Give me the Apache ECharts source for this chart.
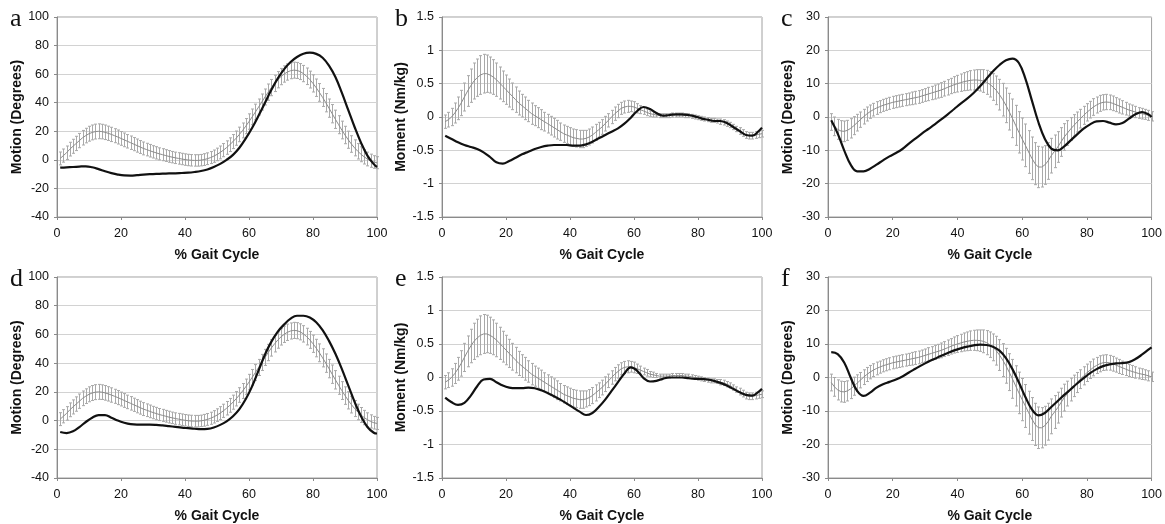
<!DOCTYPE html>
<html>
<head>
<meta charset="utf-8">
<script src="https://cdn.jsdelivr.net/npm/echarts@6/dist/echarts.min.js"></script>
<style>
  html, body { margin: 0; padding: 0; background: #fff; }
  #chart { width: 1165px; height: 524px; }
</style>
</head>
<body>
<div id="chart"></div>
<script>
// % gait cycle for the normative mean +/- SD
const GAIT_X = [1,2,3,4,5,6,7,8,9,10,11,12,13,14,15,16,17,18,19,20,21,22,23,24,25,26,27,28,29,30,31,32,33,34,35,36,37,38,39,40,41,42,43,44,45,46,47,48,49,50,51,52,53,54,55,56,57,58,59,60,61,62,63,64,65,66,67,68,69,70,71,72,73,74,75,76,77,78,79,80,81,82,83,84,85,86,87,88,89,90,91,92,93,94,95,96,97,98,99,100];
// % gait cycle for the subject curves
const SUBJ_X = [1,3,5,7,9,11,13,15,17,19,21,23,25,27,29,31,33,35,37,39,41,43,45,47,49,51,53,55,57,59,61,63,65,67,69,71,73,75,77,79,81,83,85,87,89,91,93,95,97,99,100];

// normative data (panels a/d, b/e, c/f share the same normal band)
const KNEE_MEAN = [1,3,5,7.5,9.5,11.5,13.5,15.5,17,18.3, 19.2,19.8,20,19.8,19.3,18.6,17.8,16.9,16,15, 14,13,12,11,10,9,8,7.2,6.4,5.6, 4.9,4.2,3.6,3,2.4,1.9,1.4,1,0.6,0.2, -0.1,-0.3,-0.4,-0.4,-0.2,0.2,0.8,1.6,2.6,3.8, 5.2,6.8,8.6,10.6,12.8,15.2,17.8,20.6,23.6,26.8, 30.1,33.5,37,40.5,44,47.4,50.6,53.5,56.1,58.3, 60.1,61.5,62.4,62.8,62.6,61.8,60.4,58.5,56.2,53.5, 50.5,47.2,43.7,40,36.2,32.3,28.4,24.6,20.9,17.4, 14.1,11.1,8.4,6,3.9,2.1,0.6,-0.6,-1.5,-2];
const KNEE_SD = [4.5,4.6,4.7,4.8,4.9,5,5,5.1,5.1,5.2, 5.2,5.2,5.2,5.1,5.1,5,5,4.9,4.9,4.8, 4.8,4.7,4.7,4.6,4.6,4.5,4.5,4.4,4.4,4.3, 4.3,4.2,4.2,4.1,4.1,4,4,4,4,4, 4,4,4,4,4,4.1,4.1,4.2,4.3,4.4, 4.5,4.6,4.7,4.8,4.9,5,5.1,5.2,5.3,5.4, 5.5,5.5,5.6,5.6,5.6,5.7,5.7,5.7,5.7,5.7, 5.7,5.7,5.6,5.6,5.6,5.6,5.7,5.8,5.9,6, 6.1,6.2,6.3,6.4,6.4,6.4,6.4,6.3,6.2,6.1, 6,5.8,5.6,5.4,5.2,5,4.8,4.6,4.4,4.2];

const MOM_MEAN = [-0.07,-0.04,0,0.06,0.13,0.21,0.3,0.39,0.47,0.54, 0.59,0.63,0.65,0.65,0.63,0.6,0.56,0.51,0.46,0.41, 0.36,0.31,0.26,0.21,0.17,0.13,0.09,0.05,0.02,-0.01, -0.04,-0.07,-0.1,-0.13,-0.16,-0.19,-0.22,-0.25,-0.27,-0.29, -0.31,-0.32,-0.33,-0.33,-0.32,-0.3,-0.27,-0.23,-0.19,-0.15, -0.1,-0.05,0,0.05,0.09,0.13,0.15,0.16,0.16,0.15, 0.13,0.11,0.09,0.07,0.05,0.04,0.03,0.02,0.02,0.02, 0.02,0.03,0.03,0.03,0.03,0.02,0.02,0.01,0,-0.01, -0.02,-0.03,-0.04,-0.05,-0.05,-0.06,-0.07,-0.08,-0.1,-0.12, -0.15,-0.18,-0.21,-0.24,-0.27,-0.28,-0.28,-0.27,-0.26,-0.25];
const MOM_SD = [0.1,0.11,0.13,0.15,0.17,0.19,0.21,0.23,0.25,0.27, 0.28,0.29,0.29,0.28,0.27,0.26,0.25,0.24,0.23,0.22, 0.21,0.2,0.19,0.18,0.17,0.17,0.16,0.16,0.15,0.15, 0.15,0.14,0.14,0.14,0.14,0.14,0.13,0.13,0.13,0.13, 0.13,0.13,0.13,0.13,0.12,0.12,0.12,0.12,0.11,0.11, 0.11,0.1,0.1,0.1,0.1,0.09,0.09,0.09,0.08,0.08, 0.07,0.06,0.05,0.05,0.04,0.04,0.03,0.03,0.03,0.03, 0.03,0.03,0.03,0.03,0.03,0.03,0.03,0.03,0.03,0.03, 0.03,0.03,0.03,0.03,0.03,0.03,0.04,0.04,0.04,0.04, 0.04,0.04,0.05,0.05,0.05,0.05,0.05,0.05,0.05,0.05];

const ABD_MEAN = [-1.5,-2.8,-3.7,-4.2,-4.3,-4,-3.4,-2.6,-1.7,-0.8, 0.1,0.9,1.6,2.2,2.7,3.1,3.5,3.8,4.1,4.4, 4.6,4.8,5,5.2,5.4,5.6,5.8,6,6.3,6.6, 6.9,7.2,7.5,7.8,8.1,8.5,8.9,9.3,9.7,10, 10.3,10.6,10.8,11,11.1,11.1,11,10.8,10.4,9.8, 9,8,6.7,5.2,3.5,1.6,-0.4,-2.5,-4.6,-6.6, -8.5,-10.5,-12.4,-14,-15,-15,-14.4,-13.2,-11.6,-10.3, -9,-7.5,-6,-4.8,-3.6,-2.5,-1.5,-0.5,0.5,1.4, 2.2,3,3.6,4.1,4.4,4.5,4.4,4.1,3.7,3.3, 2.9,2.5,2.1,1.8,1.5,1.2,1,0.8,0.5,0.2];
const ABD_SD = [2.5,2.8,3,3.1,3.1,3,2.9,2.7,2.5,2.3, 2.2,2.1,2,1.9,1.9,1.8,1.8,1.8,1.8,1.8, 1.8,1.8,1.8,1.8,1.8,1.9,1.9,1.9,1.9,1.9, 2,2,2.1,2.1,2.2,2.2,2.3,2.3,2.4,2.5, 2.6,2.7,2.8,2.9,3,3.1,3.2,3.4,3.6,3.8, 4,4.3,4.6,4.9,5.2,5.5,5.8,6,6.2,6.3, 6.4,6.4,6.4,6.3,6.2,6,5.8,5.5,5.2,4.9, 4.6,4.3,4,3.7,3.4,3.2,3,2.8,2.7,2.6, 2.5,2.5,2.4,2.4,2.3,2.3,2.2,2.2,2.1,2.1, 2,1.9,1.8,1.8,1.7,1.6,1.6,1.5,1.5,1.4];

// subject curves
const SUBJ_A = [-5.5,-5.2,-5,-4.7,-4.5,-5.2,-6.5,-8,-9.3,-10.3,-10.9,-11,-10.7,-10.3,-10,-9.8,-9.7,-9.5,-9.4,-9.2,-9,-8.5,-7.8,-6.7,-5,-2.8,0,3.5,8.5,15,22.5,31,40,49,57,63.5,68.5,72,74.3,75,74.2,71.5,66,58,47,35,23,12,3,-3,-5];
const SUBJ_B = [-0.28,-0.33,-0.38,-0.42,-0.45,-0.48,-0.53,-0.6,-0.68,-0.7,-0.66,-0.61,-0.56,-0.52,-0.48,-0.45,-0.43,-0.42,-0.42,-0.42,-0.43,-0.43,-0.41,-0.37,-0.32,-0.27,-0.22,-0.17,-0.1,-0.01,0.09,0.15,0.12,0.06,0.02,0.03,0.04,0.04,0.03,0.01,-0.02,-0.04,-0.06,-0.06,-0.09,-0.15,-0.21,-0.27,-0.28,-0.21,-0.16];
const SUBJ_C = [-1,-5,-10,-14.3,-16.3,-16.3,-15.5,-14.3,-13,-11.8,-10.8,-9.6,-8,-6.5,-5,-3.6,-2.2,-0.7,0.8,2.4,4,5.5,7.2,9.2,11.5,13.7,15.6,17,17.5,16.2,11.5,5,-1.5,-6.5,-9.5,-10,-8.8,-7,-5.2,-3.5,-2.2,-1.3,-1.2,-1.7,-2.2,-1.8,-0.5,0.8,1.5,0.8,0];
const SUBJ_D = [-8,-8.7,-7.5,-4.5,-1,2,3.8,3.8,2,0,-1.5,-2.5,-2.8,-2.8,-2.8,-3,-3.4,-3.9,-4.4,-4.9,-5.3,-5.7,-6,-5.8,-4.8,-3,-0.5,3,8,15,24,35,46,55,62,67,71,73,73,71.8,68.5,63,55.5,46.5,36,24.5,13,3,-4.5,-8.5,-9];
const SUBJ_E = [-0.3,-0.37,-0.41,-0.38,-0.27,-0.13,-0.03,-0.02,-0.07,-0.12,-0.15,-0.16,-0.16,-0.15,-0.16,-0.19,-0.23,-0.28,-0.33,-0.39,-0.45,-0.51,-0.56,-0.53,-0.44,-0.33,-0.2,-0.07,0.06,0.15,0.1,-0.01,-0.06,-0.05,-0.02,0,0,0,-0.01,-0.02,-0.02,-0.03,-0.05,-0.08,-0.12,-0.17,-0.22,-0.26,-0.27,-0.21,-0.17];
const SUBJ_F = [7.6,7,4.5,0,-4,-5.5,-4.5,-3,-2,-1.3,-0.6,0.3,1.5,2.6,3.7,4.7,5.6,6.5,7.3,8.1,8.7,9.2,9.6,9.8,9.7,9.2,8,5.8,2.5,-1.5,-5.8,-9.5,-11.3,-10.6,-8.8,-7,-5.2,-3.5,-1.8,-0.2,1.3,2.5,3.4,3.9,4.2,4.3,4.6,5.5,6.8,8.3,9];

const LETTERS = ['a', 'b', 'c', 'd', 'e', 'f'];
const Y_NAMES = ['Motion (Degrees)', 'Moment (Nm/kg)', 'Motion (Degrees)'];
const Y_MIN = [-40, -1.5, -30];
const Y_MAX = [100, 1.5, 30];
const Y_STEP = [20, 0.5, 10];

const panels = [
  { mean: KNEE_MEAN, sd: KNEE_SD, subj: SUBJ_A, kind: 0 },
  { mean: MOM_MEAN, sd: MOM_SD, subj: SUBJ_B, kind: 1 },
  { mean: ABD_MEAN, sd: ABD_SD, subj: SUBJ_C, kind: 2 },
  { mean: KNEE_MEAN, sd: KNEE_SD, subj: SUBJ_D, kind: 0 },
  { mean: MOM_MEAN, sd: MOM_SD, subj: SUBJ_E, kind: 1 },
  { mean: ABD_MEAN, sd: ABD_SD, subj: SUBJ_F, kind: 2 }
];

// plot boxes in pixels
const lefts = [57, 442, 828];
const widths = [320, 320, 324];
const tops = [17, 277];
const heights = [200, 201];

const FONT = '"Liberation Sans", Arial, sans-serif';

function renderBars(params, api) {
  const x = api.value(0);
  const lo = api.coord([x, api.value(1)]);
  const hi = api.coord([x, api.value(2)]);
  const px = Math.round(lo[0]) + 0.5;
  const style = { stroke: '#a9a9a9', lineWidth: 1 };
  return {
    type: 'group',
    children: [
      { type: 'line', shape: { x1: px, y1: lo[1], x2: px, y2: hi[1] }, style: style },
      { type: 'line', shape: { x1: px - 1.5, y1: hi[1], x2: px + 1.5, y2: hi[1] }, style: style },
      { type: 'line', shape: { x1: px - 1.5, y1: lo[1], x2: px + 1.5, y2: lo[1] }, style: style }
    ]
  };
}

const grid = [], xAxis = [], yAxis = [], series = [], graphic = [];

panels.forEach(function (p, i) {
  const col = i % 3, row = Math.floor(i / 3);
  grid.push({
    left: lefts[col], top: tops[row], width: widths[col], height: heights[row],
    show: true, borderColor: '#a0a0a0', borderWidth: 1
  });
  xAxis.push({
    gridIndex: i, type: 'value', min: 0, max: 100, interval: 20,
    name: '% Gait Cycle', nameLocation: 'middle', nameGap: 31,
    nameTextStyle: { fontFamily: FONT, fontWeight: 'bold', fontSize: 14, color: '#111' },
    axisLine: { onZero: false, lineStyle: { color: '#8a8a8a' } },
    axisTick: { show: true, length: 3, lineStyle: { color: '#8a8a8a' } },
    axisLabel: { fontFamily: FONT, fontSize: 12.5, color: '#111', margin: 10 },
    splitLine: { show: false }
  });
  yAxis.push({
    gridIndex: i, type: 'value', min: Y_MIN[p.kind], max: Y_MAX[p.kind], interval: Y_STEP[p.kind],
    name: Y_NAMES[p.kind], nameLocation: 'middle', nameGap: 33,
    nameTextStyle: { fontFamily: FONT, fontWeight: 'bold', fontSize: 14, color: '#111' },
    axisLine: { show: true, onZero: false, lineStyle: { color: '#8a8a8a' } },
    axisTick: { show: true, length: 3, lineStyle: { color: '#8a8a8a' } },
    axisLabel: { fontFamily: FONT, fontSize: 12.5, color: '#111', margin: 8 },
    splitLine: { lineStyle: { color: '#d2d2d2' } }
  });

  series.push({
    type: 'custom', xAxisIndex: i, yAxisIndex: i, renderItem: renderBars,
    data: GAIT_X.map(function (x, j) { return [x, p.mean[j] - p.sd[j], p.mean[j] + p.sd[j]]; }),
    encode: { x: 0, y: [1, 2] }, silent: true, z: 2
  });
  series.push({
    type: 'line', xAxisIndex: i, yAxisIndex: i, showSymbol: false, silent: true, z: 3,
    lineStyle: { color: '#8c8c8c', width: 1 },
    data: GAIT_X.map(function (x, j) { return [x, p.mean[j]]; })
  });
  series.push({
    type: 'line', xAxisIndex: i, yAxisIndex: i, showSymbol: false, silent: true, z: 4,
    smooth: 0.4, lineStyle: { color: '#111', width: 2.2 },
    data: SUBJ_X.map(function (x, j) { return [x, p.subj[j]]; })
  });

  graphic.push({
    type: 'text', left: lefts[col] - 47, top: tops[row] - 11,
    style: { text: LETTERS[i], font: '26px "Liberation Serif", "Times New Roman", serif', fill: '#111' }
  });
});

const myChart = echarts.init(document.getElementById('chart'));
myChart.setOption({
  animation: false,
  backgroundColor: '#fff',
  grid: grid,
  xAxis: xAxis,
  yAxis: yAxis,
  series: series,
  graphic: graphic
});
</script>
</body>
</html>
